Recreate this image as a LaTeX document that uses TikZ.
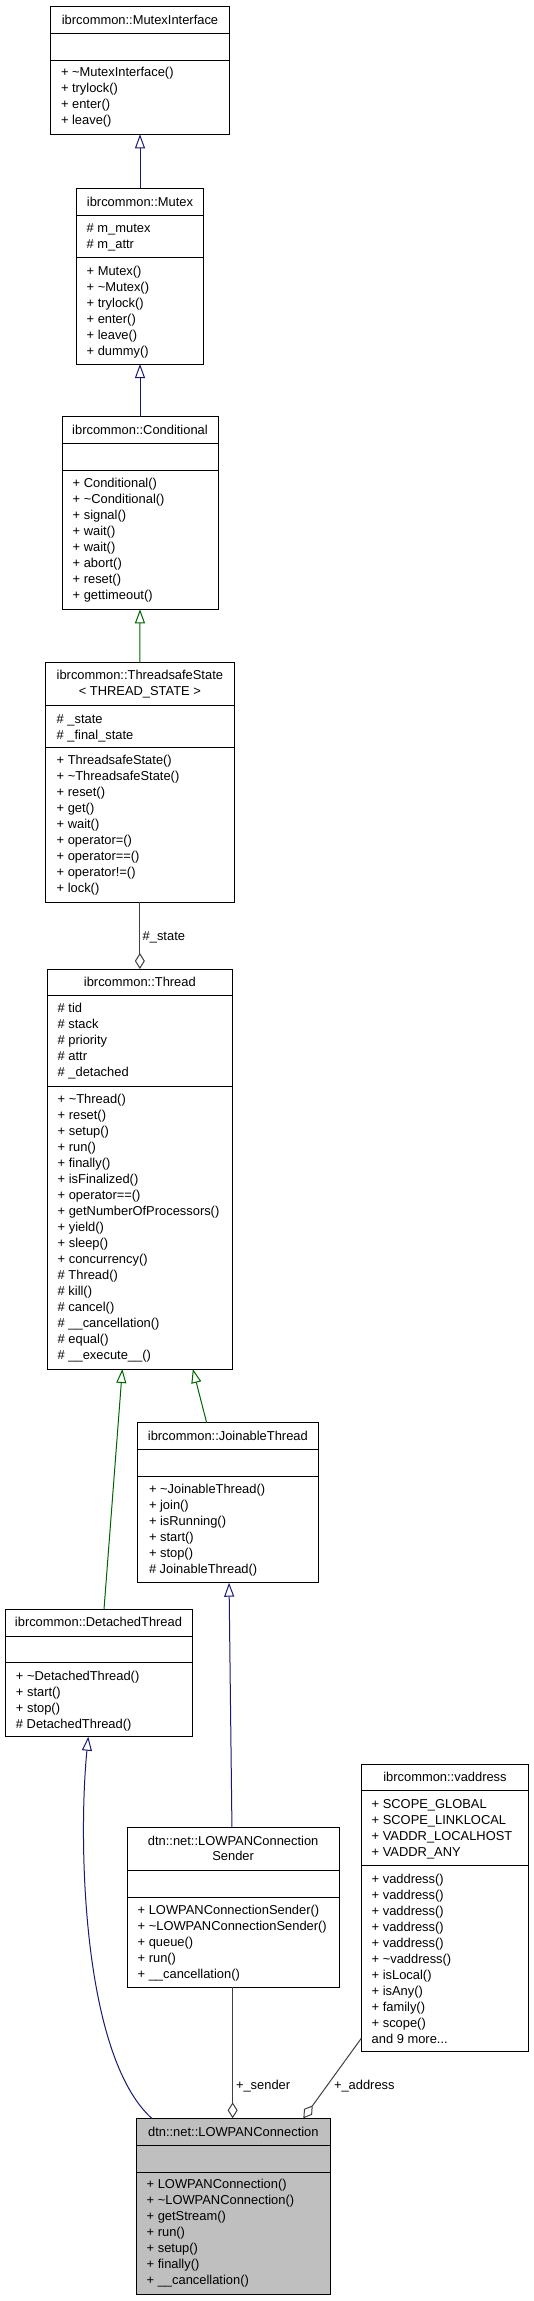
\documentclass[tikz,border=0pt]{standalone}
\usepackage{fontspec}
\setmainfont{Liberation Sans}
\usetikzlibrary{arrows.meta}
\definecolor{inhblue}{HTML}{191970}
\definecolor{inhgreen}{HTML}{006400}
\definecolor{aggray}{HTML}{404040}
\definecolor{focusgray}{HTML}{BFBFBF}
\tikzset{
  cls/.style={draw=black, line width=0.9pt, fill=white, inner sep=0pt, outer sep=0pt, anchor=north west},
  txt/.style={font=\fontsize{12.9}{16}\selectfont, inner sep=0pt, outer sep=0pt, text height=11.5pt, text depth=2.5pt},
  pubinh/.style={draw=inhblue, line width=1pt, -{Triangle[open, length=14pt, width=10pt, fill=white]}},
  protinh/.style={draw=inhgreen, line width=1pt, -{Triangle[open, length=14pt, width=10pt, fill=white]}},
  agg/.style={draw=aggray, line width=1pt, -{Diamond[open, length=16pt, width=10pt, fill=white]}},
}
% name, x, y, w, h, div1, div2, fill
\newcommand\classbox[8]{%
  \node[cls, fill=#8, minimum width=#4pt, minimum height=#5pt] (#1) at (#2,#3) {};
  \draw[line width=0.9pt] (#2,#6) -- ++(#4,0);
  \draw[line width=0.9pt] (#2,#7) -- ++(#4,0);
}
% prefix, x, first y, list
\newcommand\mlines[4]{%
  \foreach \t [count=\i] in {#4} {\node[txt, anchor=west] (#1\i) at (#2,{#3+(\i-1)*16}) {\t};}%
}
\begin{document}
\begin{tikzpicture}[x=1pt, y=-1pt]
\useasboundingbox (0,0) rectangle (533,2301);

% MutexInterface
\classbox{mi}{50.7}{6}{178.6}{128.3}{33.3}{60.3}{white}
\node[txt] (mit) at (140,19.7) {ibrcommon::MutexInterface};
\mlines{mim}{61}{72.3}{{+ \textasciitilde MutexInterface()},{+ trylock()},{+ enter()},{+ leave()}}

% Mutex
\classbox{mx}{76.7}{188.3}{126.6}{175.7}{215}{257.7}{white}
\node[txt] (mxt) at (140,201.7) {ibrcommon::Mutex};
\mlines{mxa}{86.7}{227.7}{{\# m\_mutex},{\# m\_attr}}
\mlines{mxm}{86.7}{270.7}{{+ Mutex()},{+ \textasciitilde Mutex()},{+ trylock()},{+ enter()},{+ leave()},{+ dummy()}}

% Conditional
\classbox{cd}{62}{416.7}{156}{192.6}{443.7}{470.3}{white}
\node[txt] (cdt) at (140,430.2) {ibrcommon::Conditional};
\mlines{cdm}{72.7}{483}{{+ Conditional()},{+ \textasciitilde Conditional()},{+ signal()},{+ wait()},{+ wait()},{+ abort()},{+ reset()},{+ gettimeout()}}

% ThreadsafeState
\classbox{ts}{45.7}{662.7}{188.3}{239.6}{705}{747.7}{white}
\node[txt] (tst1) at (139.85,675.3) {ibrcommon::ThreadsafeState};
\node[txt] (tst2) at (139.85,691.3) {\textless{} THREAD\_STATE \textgreater{}};
\mlines{tsa}{56.7}{719}{{\# \_state},{\# \_final\_state}}
\mlines{tsm}{56.7}{760}{{+ ThreadsafeState()},{+ \textasciitilde ThreadsafeState()},{+ reset()},{+ get()},{+ wait()},{+ operator=()},{+ operator==()},{+ operator!=()},{+ lock()}}

% Thread
\classbox{th}{47}{969}{185.7}{400}{995.7}{1086.7}{white}
\node[txt] (tht) at (139.85,982.3) {ibrcommon::Thread};
\mlines{tha}{57.7}{1008.3}{{\# tid},{\# stack},{\# priority},{\# attr},{\# \_detached}}
\mlines{thm}{57.7}{1099.3}{{+ \textasciitilde Thread()},{+ reset()},{+ setup()},{+ run()},{+ finally()},{+ isFinalized()},{+ operator==()},{+ getNumberOfProcessors()},{+ yield()},{+ sleep()},{+ concurrency()},{\# Thread()},{\# kill()},{\# cancel()},{\# \_\_cancellation()},{\# equal()},{\# \_\_execute\_\_()}}

% JoinableThread
\classbox{jt}{137.7}{1422.7}{180.3}{160}{1449.3}{1476}{white}
\node[txt] (jtt) at (227.85,1435.7) {ibrcommon::JoinableThread};
\mlines{jtm}{149}{1489}{{+ \textasciitilde JoinableThread()},{+ join()},{+ isRunning()},{+ start()},{+ stop()},{\# JoinableThread()}}

% DetachedThread
\classbox{dt}{5}{1609.3}{187}{127.4}{1636}{1662.7}{white}
\node[txt] (dtt) at (98.5,1622.3) {ibrcommon::DetachedThread};
\mlines{dtm}{16}{1675.7}{{+ \textasciitilde DetachedThread()},{+ start()},{+ stop()},{\# DetachedThread()}}

% Sender
\classbox{sd}{127}{1827.7}{212.3}{159.6}{1870}{1897.3}{white}
\node[txt] (sdt1) at (233.15,1840.7) {dtn::net::LOWPANConnection};
\node[txt] (sdt2) at (233.15,1856) {Sender};
\mlines{sdm}{137.7}{1910}{{+ LOWPANConnectionSender()},{+ \textasciitilde LOWPANConnectionSender()},{+ queue()},{+ run()},{+ \_\_cancellation()}}

% vaddress
\classbox{va}{361.3}{1764}{167.4}{287.7}{1790.7}{1865}{white}
\node[txt] (vat) at (445,1776.7) {ibrcommon::vaddress};
\mlines{vaa}{371.7}{1804}{{+ SCOPE\_GLOBAL},{+ SCOPE\_LINKLOCAL},{+ VADDR\_LOCALHOST},{+ VADDR\_ANY}}
\mlines{vam}{371.7}{1879}{{+ vaddress()},{+ vaddress()},{+ vaddress()},{+ vaddress()},{+ vaddress()},{+ \textasciitilde vaddress()},{+ isLocal()},{+ isAny()},{+ family()},{+ scope()}}
\node[txt, anchor=west] (vamore) at (371.7,2039) {and 9 more...};

% LOWPANConnection
\classbox{lc}{136.7}{2118.3}{193.3}{176}{2145}{2172.3}{focusgray}
\node[txt] (lct) at (233.35,2131.7) {dtn::net::LOWPANConnection};
\mlines{lcm}{146.7}{2184}{{+ LOWPANConnection()},{+ \textasciitilde LOWPANConnection()},{+ getStream()},{+ run()},{+ setup()},{+ finally()},{+ \_\_cancellation()}}

% edges
\draw[pubinh] (mx.north) -- (mi.south);
\draw[pubinh] (cd.north) -- (mx.south);
\draw[protinh] (ts.north) -- (cd.south);
\draw[agg] (ts.south) -- (th.north);
\node[txt, anchor=west] (lstate) at (142.7,935.7) {\#\_state};
\draw[protinh] ([xshift=5.5pt]dt.north) -- ([xshift=-17.5pt]th.south);
\draw[protinh] ([xshift=-21.2pt]jt.north) -- ([xshift=53pt]th.south);
\draw[pubinh] ([xshift=-1.2pt]sd.north) -- ([xshift=1.2pt]jt.south);
\draw[pubinh] ([xshift=-81.65pt]lc.north) .. controls (82,2055) and (78,1840) .. ([xshift=-10.2pt]dt.south);
\draw[agg] ([xshift=-0.5pt]sd.south) -- ([xshift=-0.7pt]lc.north);
\node[txt, anchor=west] (lsender) at (236,2085) {+\_sender};
\draw[agg] ([yshift=13.4pt]va.south west) -- ([xshift=70pt]lc.north);
\node[txt, anchor=west] (laddress) at (334,2085) {+\_address};
\end{tikzpicture}
\end{document}
